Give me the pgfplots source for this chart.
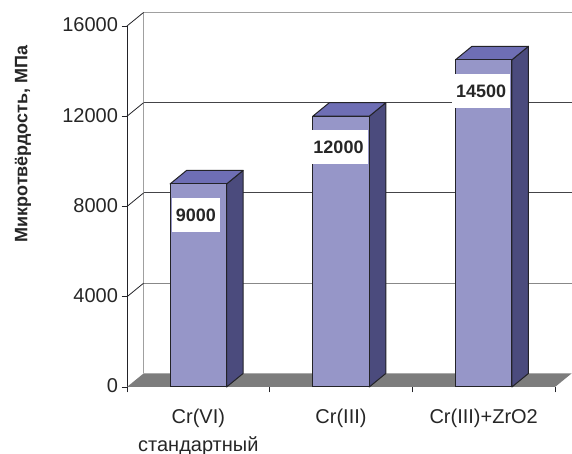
\documentclass[border=0pt]{standalone}
\usepackage{fontspec}
\setmainfont{Liberation Sans}
\usepackage{pgfplots}
\pgfplotsset{compat=1.18}
\usepackage{pgfplotstable}

\definecolor{barfront}{RGB}{150,150,200}
\definecolor{bartop}{RGB}{110,110,180}
\definecolor{barside}{RGB}{75,75,125}
\definecolor{floorgray}{RGB}{125,125,125}
\definecolor{wallgray}{RGB}{160,160,160}
\definecolor{edge}{RGB}{35,35,40}

% micro-hardness, MPa
\pgfplotstableread{
x    v
0.5  9000
1.5  12000
2.5  14500
}\hardness

% depth of the 3-D box (bars and walls), in pt
\def\depthx{16.5pt}
\def\depthy{13.5pt}
% the same depth and the half bar width in axis units
% (x: 428pt for 3 units, y: 361pt for 16000)
\def\halfwu{0.19801}
\def\depthxu{0.11565}
\def\depthyu{598.34}

\begin{document}
\begin{tikzpicture}
\useasboundingbox (0,0) rectangle (572pt,454pt);
\begin{axis}[
  at={(127pt,67pt)}, anchor=south west,
  scale only axis, width=428pt, height=361pt,
  xmin=0, xmax=3, ymin=0, ymax=16000,
  clip=false,
  axis lines*=left,
  axis line style={draw=edge, line width=1pt},
  xtick={0,1,2,3}, xticklabels={},
  extra x ticks={0.5,1.5,2.5},
  extra x tick labels={{Cr(VI)\\стандартный},{Cr(III)},{Cr(III)+ZrO2}},
  extra x tick style={major tick length=0pt,
    tick label style={align=center, yshift=-18pt,
      font=\fontsize{20}{28}\selectfont}},
  ytick={0,4000,8000,12000,16000},
  scaled y ticks=false,
  tick align=outside, major tick length=5.5pt,
  tick style={draw=edge, line width=0.8pt},
  ticklabel style={font=\fontsize{20}{28}\selectfont, text=black!85},
  yticklabel style={yshift=1pt},
  /pgf/number format/1000 sep={},
  /pgf/number format/assume math mode=true,
  ylabel={Микротвёрдость, МПа},
  every axis y label/.style={at={(axis description cs:-0.243,0.673)},
    rotate=90, anchor=center,
    font=\bfseries\fontsize{18}{20}\selectfont, text=black!85},
]
% floor
\fill[floorgray] (axis cs:0,0) -- (axis cs:3,0) -- ++(\depthx,\depthy)
  -- ++(-428pt,0) -- cycle;
% back wall
\draw[wallgray, line width=1.6pt, shift={(\depthx,\depthy)}]
  (axis cs:0,0) -- (axis cs:0,16000) -- (axis cs:3,16000);
\draw[wallgray!85!black, line width=1pt, shift={(\depthx,\depthy)}]
  (axis cs:0,4000) -- (axis cs:3,4000);
\draw[edge!85, line width=1pt, shift={(\depthx,\depthy)}]
  (axis cs:0,8000) -- (axis cs:3,8000)
  (axis cs:0,12000) -- (axis cs:3,12000);
% side wall
\pgfplotsinvokeforeach{4000,8000,12000,16000}{
  \draw[edge, line width=0.8pt] (axis cs:0,#1) -- ++(\depthx,\depthy);
}
% side and top faces of each bar, from the table
\foreach \i in {0,1,2}{
  \pgfplotstablegetelem{\i}{x}\of\hardness \let\xc\pgfplotsretval
  \pgfplotstablegetelem{\i}{v}\of\hardness \let\val\pgfplotsretval
  \pgfmathsetmacro\xl{\xc-\halfwu}
  \pgfmathsetmacro\xr{\xc+\halfwu}
  \pgfmathsetmacro\xlb{\xl+\depthxu}
  \pgfmathsetmacro\xrb{\xr+\depthxu}
  \pgfmathsetmacro\vb{\val+\depthyu}
  \edef\faces{%
    \noexpand\addplot[fill=barside, draw=edge, line width=1pt, line join=round]
      coordinates {(\xr,0) (\xrb,\depthyu) (\xrb,\vb) (\xr,\val)} -- cycle;
    \noexpand\addplot[fill=bartop, draw=edge, line width=1pt, line join=round]
      coordinates {(\xl,\val) (\xlb,\vb) (\xrb,\vb) (\xr,\val)} -- cycle;
  }\faces
}
% front faces of the bars, with value labels
\addplot[ybar, bar width=56.5pt, fill=barfront, draw=edge, line width=1pt,
  nodes near coords,
  every node near coord/.append style={anchor=center, yshift=-31pt,
    xshift=-2.5pt, fill=white, inner xsep=4pt, minimum height=34pt,
    font=\bfseries\fontsize{18}{20}\selectfont, text=black!85},
] table[x=x, y=v] {\hardness};
\end{axis}
\end{tikzpicture}
\end{document}
